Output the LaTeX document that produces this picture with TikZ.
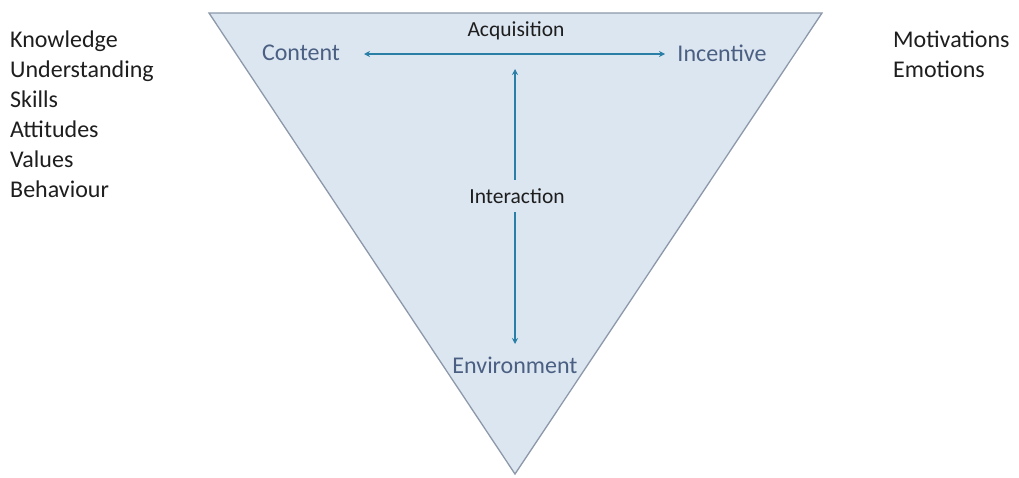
\documentclass[tikz,border=0pt]{standalone}
\usepackage{fontspec}
\setmainfont{Carlito}
\usetikzlibrary{arrows.meta}
\definecolor{trifill}{HTML}{DCE6F1}
\definecolor{triedge}{HTML}{8D99AA}
\definecolor{labblue}{HTML}{4A5F82}
\definecolor{arrblue}{HTML}{2A7FA6}
\definecolor{txtdark}{HTML}{1E1E1E}
\tikzset{
  bluelab/.style={text=labblue, font=\fontsize{24}{30}\selectfont, inner sep=1pt},
  darklab/.style={text=txtdark, font=\fontsize{21.5}{26}\selectfont, inner sep=2pt},
  sidelist/.style={text=txtdark, font=\fontsize{24}{30}\selectfont, align=left, inner sep=0pt},
  link/.style={draw=arrblue, line width=1.8pt, {Stealth[length=6pt,width=6pt]}-{Stealth[length=6pt,width=6pt]}}
}
\begin{document}
\begin{tikzpicture}[x=1pt,y=-1pt]
\useasboundingbox (0,0) rectangle (1019,477);
\fill[white] (0,0) rectangle (1019,477);
% triangle
\coordinate (tl) at (209,13);
\coordinate (tr) at (822,13);
\coordinate (ap) at (515,474);
\filldraw[fill=trifill, draw=triedge, line width=1.3pt, line join=miter] (tl) -- (tr) -- (ap) -- cycle;
% labels
\node[bluelab] (content) at (301,53) {Content};
\node[bluelab] (incentive) at (722,53) {Incentive};
\node[bluelab] (environment) at (515,365) {Environment};
\node[darklab] (acq) at (516,31) {Acquisition};
% connectors
\coordinate (hl) at (364,54);
\coordinate (hr) at (665,54);
\draw[link] (hl) -- (hr);
\coordinate (vt) at (515,69);
\coordinate (vb) at (515,344);
\draw[link] (vt) -- (vb);
\node[darklab, fill=trifill, inner ysep=8pt] (inter) at (517,196) {Interaction};
% side lists
\node[sidelist, anchor=north west] (left) at (10,31) {Knowledge\\Understanding\\Skills\\Attitudes\\Values\\Behaviour};
\node[sidelist, anchor=north west] (right) at (893,31) {Motivations\\Emotions};
\end{tikzpicture}
\end{document}
